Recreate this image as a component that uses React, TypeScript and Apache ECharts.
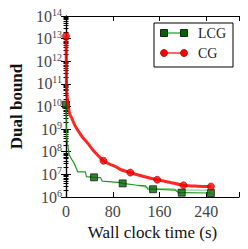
import React, { useEffect, useRef } from "react";
import * as echarts from "echarts";

// LCG (green) trajectory
const lcgCurve: [number, number][] = [
  [0, 1.2e10], [0.5, 1e9], [1.7, 3.3e8], [5.6, 7.2e7], [10, 4.5e7], [14, 3.1e7],
  [20, 1.3e7], [33, 1.3e7], [35, 8e6], [48, 7.4e6], [59, 7.2e6], [62, 5e6],
  [94, 4.3e6], [97, 4e6], [119, 3.4e6], [136, 3.1e6], [140, 2.2e6], [149, 2.2e6],
  [187, 2.0e6], [193, 1.55e6], [248, 1.5e6],
];
const lcgLight: [number, number][] = [
  [120, 3.3e6], [140, 2.6e6], [150, 2.4e6], [185, 2.3e6], [190, 2.0e6], [250, 2.0e6],
];
const lcgMarkers: [number, number][] = [
  [0, 1.2e10], [48, 7.4e6], [97, 4e6], [149, 2.2e6], [198, 1.55e6], [248, 1.5e6],
];

// CG (red) trajectory
const cgCurve: [number, number][] = [
  [0, 1.3e13], [0.5, 5e11], [1, 5e10], [3, 1.5e10], [6, 5e9], [10, 3e9], [15, 1.5e9],
  [20, 9e8], [28, 4.5e8], [37, 2.4e8], [45, 1.3e8], [54, 7.2e7], [64, 4e7], [75, 2.8e7],
  [85, 2.2e7], [94, 1.6e7], [110, 1.2e7], [130, 8.5e6], [156, 5.8e6], [180, 4.3e6],
  [201, 3.3e6], [225, 3.0e6], [248, 2.9e6],
];
const cgMarkers: [number, number][] = [
  [0, 1.3e13], [64, 4e7], [110, 1.2e7], [156, 5.8e6], [201, 3.3e6], [248, 2.9e6],
];

const xTicks = [0, 80, 160, 240];
const yMinExp = 6;
const yMaxExp = 14;

const FONT = "Liberation Serif";
const GREEN_LINE = "#1f9a1f";
const GREEN_MARK = "#006400";
const RED = "#ff0000";

export default function App() {
  const ref = useRef<HTMLDivElement>(null);
  useEffect(() => {
    if (!ref.current) return;
    const chart = echarts.init(ref.current, null, { renderer: "svg" });
    const gridL = 65, gridT = 16, gridR = 9, gridB = 52;
    const yAxisBase = {
      type: "log" as const,
      logBase: 10,
      min: Math.pow(10, yMinExp),
      max: Math.pow(10, yMaxExp),
      axisLine: { show: true, lineStyle: { color: "#000", width: 1.2 } },
      axisTick: { show: true, inside: true, length: 5, lineStyle: { color: "#000" } },
      minorTick: { show: true, splitNumber: 9, length: 2.5, lineStyle: { color: "#000" } },
      splitLine: { show: false },
    };
    const xAxisBase = {
      type: "value" as const,
      min: 0,
      max: 296,
      interval: 80,
      axisLine: { show: true, onZero: false, lineStyle: { color: "#000", width: 1.2 } },
      axisTick: { show: true, inside: true, length: 5, lineStyle: { color: "#000" } },
      splitLine: { show: false },
    };
    chart.setOption({
      animation: false,
      grid: { left: gridL, top: gridT, right: gridR, bottom: gridB },
      xAxis: [
        {
          ...xAxisBase,
          position: "bottom",
          name: "Wall clock time (s)",
          nameLocation: "middle",
          nameGap: 26,
          nameTextStyle: { fontFamily: FONT, fontSize: 17, color: "#111" },
          axisLabel: {
            margin: 6,
            fontFamily: FONT,
            fontSize: 16,
            color: "#444",
            formatter: (v: number) => (xTicks.includes(v) ? String(v) : ""),
          },
        },
        { ...xAxisBase, position: "top", axisLabel: { show: false } },
      ],
      yAxis: [
        {
          ...yAxisBase,
          position: "left",
          name: "Dual bound",
          nameLocation: "middle",
          nameGap: 41,
          nameTextStyle: { fontFamily: FONT, fontSize: 17, fontWeight: "bold", color: "#111" },
          axisLabel: {
            margin: 4,
            fontFamily: FONT,
            color: "#444",
            formatter: (v: number) => "{b|10}{s|" + Math.round(Math.log10(v)) + "}",
            rich: {
              b: { fontFamily: FONT, fontSize: 16, color: "#444", lineHeight: 18 },
              s: { fontFamily: FONT, fontSize: 10, color: "#444", verticalAlign: "top", lineHeight: 10, padding: [0, 0, 8, 0] },
            },
          },
        },
        { ...yAxisBase, position: "right", axisLabel: { show: false } },
      ],
      series: [
        {
          type: "line",
          data: lcgLight,
          showSymbol: false,
          lineStyle: { color: "#8fd08f", width: 1.2 },
          z: 2,
        },
        {
          type: "line",
          data: lcgCurve,
          showSymbol: false,
          lineStyle: { color: GREEN_LINE, width: 1.2 },
          z: 3,
        },
        {
          type: "scatter",
          data: lcgMarkers,
          symbol: "rect",
          symbolSize: 7,
          itemStyle: { color: GREEN_MARK, borderColor: "#000", borderWidth: 0.8 },
          z: 4,
        },
        {
          type: "line",
          data: cgCurve,
          showSymbol: false,
          smooth: 0.3,
          lineStyle: { color: RED, width: 3, opacity: 0.85 },
          z: 5,
        },
        {
          type: "scatter",
          data: cgMarkers,
          symbol: "circle",
          symbolSize: 7,
          itemStyle: { color: RED, borderColor: "#a00000", borderWidth: 0.8 },
          z: 6,
        },
      ],
      graphic: [
        {
          type: "rect",
          shape: { x: 154, y: 23, width: 79, height: 44 },
          style: { fill: "#fff", stroke: "#000", lineWidth: 1 },
          z: 10,
        },
        { type: "line", shape: { x1: 164, y1: 33, x2: 184, y2: 33 }, style: { stroke: GREEN_LINE, lineWidth: 1.2 }, z: 11 },
        { type: "rect", shape: { x: 160.5, y: 29.5, width: 7, height: 7 }, style: { fill: GREEN_MARK, stroke: "#000", lineWidth: 0.8 }, z: 12 },
        { type: "rect", shape: { x: 180.5, y: 29.5, width: 7, height: 7 }, style: { fill: GREEN_MARK, stroke: "#000", lineWidth: 0.8 }, z: 12 },
        { type: "text", x: 198, y: 33, style: { text: "LCG", font: `14px "${FONT}"`, fill: "#222", verticalAlign: "middle" }, z: 12 },
        { type: "line", shape: { x1: 164, y1: 53, x2: 184, y2: 53 }, style: { stroke: RED, lineWidth: 1.2 }, z: 11 },
        { type: "circle", shape: { cx: 164, cy: 53, r: 3.5 }, style: { fill: RED, stroke: "#a00000", lineWidth: 0.8 }, z: 12 },
        { type: "circle", shape: { cx: 184, cy: 53, r: 3.5 }, style: { fill: RED, stroke: "#a00000", lineWidth: 0.8 }, z: 12 },
        { type: "text", x: 198, y: 53, style: { text: "CG", font: `14px "${FONT}"`, fill: "#222", verticalAlign: "middle" }, z: 12 },
      ],
    });
    return () => chart.dispose();
  }, []);
  return <div ref={ref} style={{ width: 248, height: 249, position: "absolute", left: 0, top: 0 }} />;
}
